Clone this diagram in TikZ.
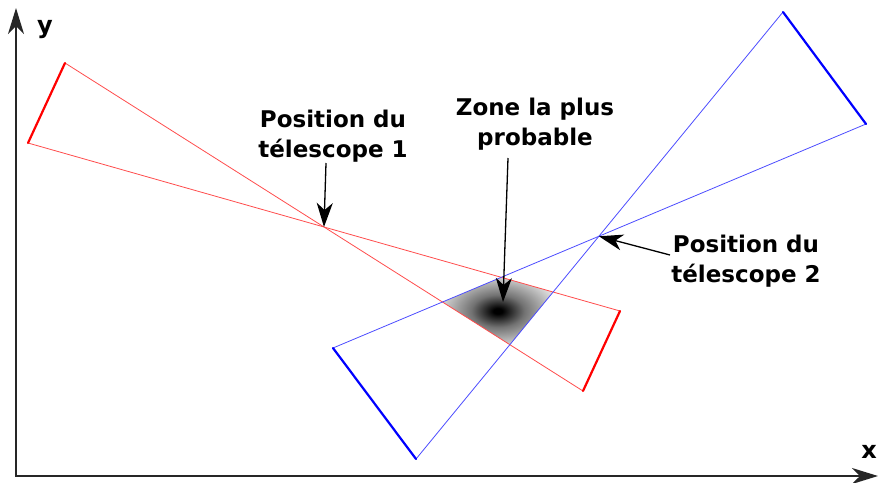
\documentclass[tikz,border=0pt]{standalone}
\usepackage{fontspec}
\setmainfont{DejaVu Sans}
\usetikzlibrary{arrows.meta}
\pgfdeclareradialshading{zoneshade}{\pgfpoint{0bp}{0bp}}{color(0bp)=(black); color(2bp)=(black); color(12bp)=(black!55); color(32bp)=(white); color(50bp)=(white)}
\begin{document}
\begin{tikzpicture}[x=1pt,y=-1pt,
  redthin/.style={draw=red!70, line width=0.8pt},
  redbold/.style={draw=red, line width=2.2pt},
  bluethin/.style={draw=blue!70, line width=0.8pt},
  bluebold/.style={draw=blue, line width=2.2pt},
  axisline/.style={draw=black!85, line width=2pt},
  ptr/.style={draw=black, line width=1.3pt, -{Stealth[length=24pt,width=16pt,inset=7pt]}},
  lab/.style={font=\fontsize{23}{30}\selectfont\bfseries, align=center, inner sep=0pt},
  axlab/.style={font=\fontsize{24}{28}\selectfont\bfseries, inner sep=0pt}]
\useasboundingbox (0,0) rectangle (878,482);
% red telescope 1
\coordinate (r1) at (65,63);
\coordinate (r2) at (28,143);
\coordinate (r3) at (620,311);
\coordinate (r4) at (583,391);
% blue telescope 2
\coordinate (b1) at (783,12);
\coordinate (b2) at (866,124);
\coordinate (b3) at (333,348);
\coordinate (b4) at (416,459);
\coordinate (t1) at (intersection of r1--r4 and r2--r3);
\coordinate (t2) at (intersection of b1--b4 and b2--b3);
% most probable zone
\coordinate (za) at (intersection of r1--r4 and b2--b3);
\coordinate (zb) at (intersection of r2--r3 and b2--b3);
\coordinate (zc) at (intersection of r2--r3 and b1--b4);
\coordinate (zd) at (intersection of r1--r4 and b1--b4);
\shade[shading=zoneshade] (za) -- (zb) -- (zc) -- (zd) -- cycle;
% red lines
\draw[redthin] (r2) -- (r3);
\draw[redthin] (r1) -- (r4);
\draw[redbold, line cap=round] (r1) -- (r2);
\draw[redbold, line cap=round] (r3) -- (r4);
% blue lines
\draw[bluethin] (b2) -- (b3);
\draw[bluethin] (b1) -- (b4);
\draw[bluebold, line cap=round] (b1) -- (b2);
\draw[bluebold, line cap=round] (b3) -- (b4);
% axes
\coordinate (ytip) at (16,8);
\coordinate (xtip) at (878,476);
\draw[axisline, {Stealth[length=26pt,width=16pt,inset=8pt]}-{Stealth[length=26pt,width=16pt,inset=8pt]}] (ytip) |- (xtip);
\node[axlab] (ylab) at (45,30) {y};
\node[axlab] (xlab) at (869,452) {x};
% labels
\node[lab, anchor=base] (p1) at (333,157) {Position du\\télescope 1};
\node[lab, anchor=base] (zl) at (535,145) {Zone la plus\\probable};
\node[lab, anchor=base] (p2) at (746,282) {Position du\\télescope 2};
\coordinate (a1) at (326,163);
\coordinate (a2) at (508,158);
\coordinate (a3) at (670,255);
\coordinate (ztip) at (503,302);
\draw[ptr] (a1) -- (t1);
\draw[ptr] (a2) -- (ztip);
\draw[ptr] (a3) -- (t2);
\end{tikzpicture}
\end{document}
